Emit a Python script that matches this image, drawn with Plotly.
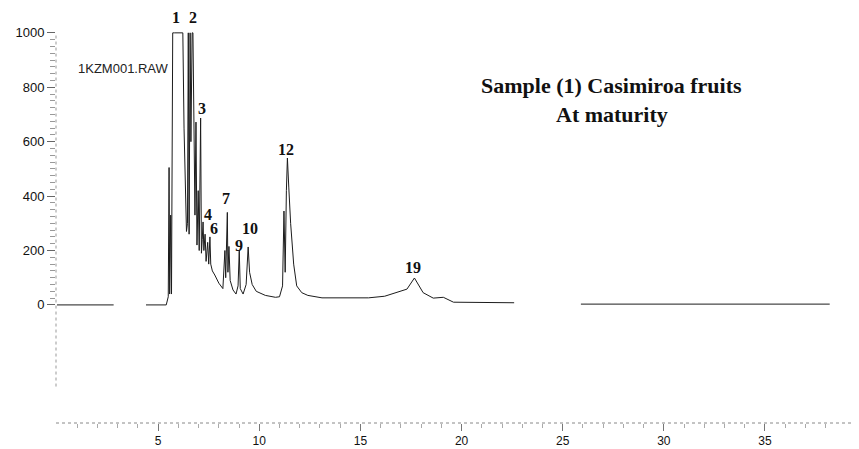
import plotly.graph_objects as go

# ---------------- data ----------------
retention_time = [
    0.0, 2.8, None, 4.4, 5.1, 5.40, 5.50, 5.54, 5.57, 5.62, 5.66, 5.72, 5.80, 5.90,
    6.05, 6.22, 6.28, 6.34, 6.40, 6.45, 6.49, 6.53, 6.58, 6.62, 6.68, 6.72, 6.76,
    6.82, 6.87, 6.92, 6.98, 7.03, 7.10, 7.14, 7.18, 7.22, 7.26, 7.32, 7.37, 7.45,
    7.50, 7.56, 7.60, 7.68, 7.80, 8.00, 8.20, 8.30, 8.34, 8.38, 8.42, 8.45, 8.50,
    8.56, 8.70, 8.85, 8.95, 9.01, 9.06, 9.20, 9.35, 9.45, 9.52, 9.65, 9.85, 10.3,
    10.8, 11.0, 11.15, 11.22, 11.28, 11.34, 11.39, 11.46, 11.55, 11.70, 11.85,
    12.1, 12.4, 13.1, 14.5, 15.4, 16.2, 16.8, 17.3, 17.67, 18.1, 18.6, 19.1, 19.6,
    22.6, None, 25.9, 38.2,
]
intensity = [
    0, 0, None, 0, 0, 0, 30, 505, 40, 330, 40, 1000, 1000, 1000,
    1000, 1000, 650, 420, 270, 300, 1000, 260, 1000, 600, 1000, 1000, 600,
    330, 672, 220, 420, 200, 687, 190, 240, 305, 200, 260, 160, 230,
    150, 250, 150, 125, 110, 80, 60, 200, 100, 225, 340, 120, 215,
    90, 55, 40, 70, 198, 60, 40, 75, 213, 120, 75, 50, 35,
    28, 30, 70, 345, 120, 420, 540, 430, 300, 150, 70,
    45, 35, 26, 25, 26, 32, 45, 58, 99, 45, 25, 28, 10,
    8, None, 3, 3,
]

peak_ids = ["1", "2", "3", "4", "6", "7", "9", "10", "12", "19"]
peak_rt = [5.88, 6.70, 7.10, 7.22, 7.56, 8.42, 9.01, 9.45, 11.39, 17.67]
peak_top = [1000, 1000, 687, 305, 250, 340, 198, 213, 540, 99]

x_ticks = [5, 10, 15, 20, 25, 30, 35]
y_ticks = [0, 200, 400, 600, 800, 1000]

file_label = "1KZM001.RAW"
title_lines = ["Sample (1) Casimiroa fruits", "At maturity"]

# ---------------- styling ----------------
label_shift = [(0, 15), (0, 15), (1, 10), (5, 7), (4, 8), (-1, 14), (0, 6), (2, 18), (-1, 9), (-1, 10)]
SERIF = "Liberation Serif, Times New Roman, serif"
SANS = "Liberation Sans, Arial, sans-serif"

fig = go.Figure()
fig.add_trace(go.Scatter(
    x=retention_time, y=intensity, mode="lines",
    line=dict(color="#1c1c1c", width=1), connectgaps=False,
    hoverinfo="skip",
))

for pid, rt, top, (dx, dy) in zip(peak_ids, peak_rt, peak_top, label_shift):
    fig.add_annotation(
        x=rt, y=top, xref="x", yref="y", text="<b>%s</b>" % pid, showarrow=False,
        xanchor="center", yanchor="middle", xshift=dx, yshift=dy,
        font=dict(family=SERIF, size=16, color="#111"),
    )

fig.add_annotation(
    x=0.694, y=0.816, xref="paper", yref="paper", text="<b>%s</b>" % title_lines[0],
    showarrow=False, xanchor="center", yanchor="middle",
    font=dict(family=SERIF, size=22, color="#111"),
)
fig.add_annotation(
    x=0.694, y=0.746, xref="paper", yref="paper", text="<b>%s</b>" % title_lines[1],
    showarrow=False, xanchor="center", yanchor="middle",
    font=dict(family=SERIF, size=22, color="#111"),
)
fig.add_annotation(
    x=0.025, y=0.858, xref="paper", yref="paper", text=file_label,
    showarrow=False, xanchor="left", yanchor="middle",
    font=dict(family=SANS, size=13, color="#222"),
)

# dotted axis lines
fig.add_shape(type="line", xref="paper", yref="paper", x0=0, x1=1, y0=0, y1=0,
              line=dict(color="#888", width=1, dash="dot"))
fig.add_shape(type="line", xref="paper", yref="y", x0=0, x1=0, y0=-300, y1=1000,
              line=dict(color="#999", width=1, dash="dot"))

# the page body adds an 8 px offset, so the figure is 8 px smaller
fig.update_layout(
    width=851, height=441,
    margin=dict(l=48, r=2, t=2, b=26),
    plot_bgcolor="white", paper_bgcolor="white",
    showlegend=False,
    xaxis=dict(
        range=[-0.05, 39.55], tickmode="array", tickvals=x_ticks,
        ticks="outside", ticklen=7, tickcolor="#777", tickwidth=1,
        showgrid=False, zeroline=False, showline=False, automargin=False,
        tickfont=dict(family=SANS, size=12, color="#111"),
        minor=dict(tickmode="array", tickvals=list(range(1, 39)), ticks="outside",
                   ticklen=4, tickcolor="#aaa", showgrid=False),
    ),
    yaxis=dict(
        range=[-434, 1084], tickmode="array", tickvals=y_ticks,
        ticks="outside", ticklen=8, tickcolor="#666", tickwidth=1,
        showgrid=False, zeroline=False, showline=False, automargin=False,
        tickfont=dict(family=SANS, size=13, color="#111"),
        minor=dict(tickmode="array", tickvals=list(range(0, 1001, 25)), ticks="outside",
                   ticklen=5, tickcolor="#999", showgrid=False),
    ),
)

fig.write_html("out.html", config={"displayModeBar": False})
